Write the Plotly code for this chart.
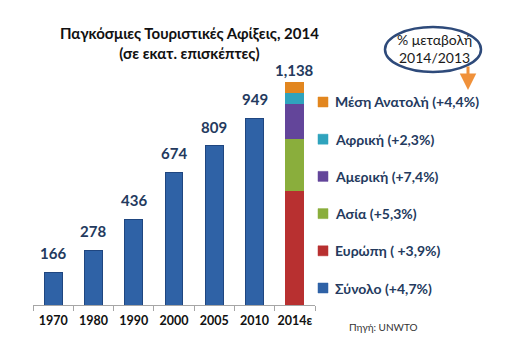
import plotly.graph_objects as go

years = ["1970", "1980", "1990", "2000", "2005", "2010", "2014ε"]
totals = [166, 278, 436, 674, 809, 949, 1138]
total_labels = ["166", "278", "436", "674", "809", "949", "1,138"]

region_names = ["Ευρώπη ( +3,9%)", "Ασία (+5,3%)", "Αμερική (+7,4%)",
                "Αφρική (+2,3%)", "Μέση Ανατολή (+4,4%)"]
region_values_2014 = [582, 263, 181, 56, 51]
region_colors = ["#b83030", "#8aae3c", "#63459a", "#2fa3bd", "#e2861f"]
total_name = "Σύνολο (+4,7%)"
total_color = "#2f62a6"

TEXT = "#243a5e"
FONT = "Lato"

L, R, T, B = 33, 202, 60, 43
W, H = 517, 348
PW, PH = W - L - R, H - T - B


def px(x):
    return (x - L) / PW


def py(y):
    return (H - B - y) / PH


fig = go.Figure()
fig.add_trace(go.Bar(
    x=years[:-1], y=totals[:-1], name=total_name,
    marker=dict(color=total_color, line=dict(color="#1f4680", width=1)),
))
for nm, v, c in zip(region_names, region_values_2014, region_colors):
    fig.add_trace(go.Bar(
        x=[years[-1]], y=[v], name=nm,
        marker=dict(color=c, line=dict(color=c, width=1)),
    ))

n = len(totals)
for i, (y, t) in enumerate(zip(totals, total_labels)):
    fig.add_annotation(x=i, y=y, text=f"<b>{t}</b>", showarrow=False,
                       yanchor="bottom", yshift=8 if i < n - 1 else 0,
                       font=dict(family=FONT, size=15, color=TEXT))

# legend (top: Middle East ... bottom: total)
legend_names = [total_name] + region_names
legend_colors = [total_color] + region_colors
for k, (nm, c) in enumerate(zip(legend_names, legend_colors)):
    yc = 288 - k * 37.2
    fig.add_shape(type="rect", xref="paper", yref="paper",
                  x0=px(318), x1=px(328), y0=py(yc + 5), y1=py(yc - 5),
                  fillcolor=c, line=dict(color=c, width=0.5))
    fig.add_annotation(xref="paper", yref="paper", x=px(333), y=py(yc),
                       text=f"<b>{nm}</b>", showarrow=False,
                       xanchor="left", yanchor="middle",
                       font=dict(family=FONT, size=14, color=TEXT))

fig.update_layout(
    width=W, height=H,
    margin=dict(l=L, r=R, t=T, b=B),
    paper_bgcolor="white", plot_bgcolor="white",
    barmode="stack", bargap=0.56,
    showlegend=False,
    xaxis=dict(type="category", categoryorder="array", categoryarray=years,
               range=[-0.5, len(years) - 0.5], showgrid=False, showline=True,
               linecolor="#a6a6a6", linewidth=1, ticks="outside",
               tickson="boundaries", ticklen=5, tickcolor="#a6a6a6",
               tickangle=0, ticklabelstandoff=4,
               tickfont=dict(family=FONT, size=12.5, color="#111111", weight="bold")),
    yaxis=dict(visible=False, range=[0, 1245]),
)

fig.add_annotation(xref="paper", yref="paper", x=px(189), y=py(22),
                   text="<b>Παγκόσμιες Τουριστικές Αφίξεις, 2014</b><br><b>(σε εκατ. επισκέπτες)</b>",
                   showarrow=False, xanchor="center", yanchor="top",
                   font=dict(family=FONT, size=15, color="#111111"))

fig.add_shape(type="circle", xref="paper", yref="paper",
              x0=px(385), x1=px(481), y0=py(72), y1=py(27),
              line=dict(color="#2e4a7a", width=2.5), fillcolor="rgba(0,0,0,0)")
fig.add_annotation(xref="paper", yref="paper", x=px(434), y=py(48),
                   text="% μεταβολή<br>2014/2013", showarrow=False,
                   xanchor="center", yanchor="middle",
                   font=dict(family=FONT, size=14, color="#1a1a1a"))
fig.add_annotation(xref="paper", yref="paper", axref="pixel", ayref="pixel",
                   x=px(468), y=py(90), ax=0, ay=-25,
                   text="", showarrow=True, arrowhead=2, arrowsize=1.1,
                   arrowwidth=3, arrowcolor="#f0913a")
fig.add_annotation(xref="paper", yref="paper", x=px(347), y=py(327),
                   text="Πηγή: UNWTO", showarrow=False, xanchor="left", yanchor="middle",
                   font=dict(family=FONT, size=10, color="#333333"))

fig.write_html("out.html")
